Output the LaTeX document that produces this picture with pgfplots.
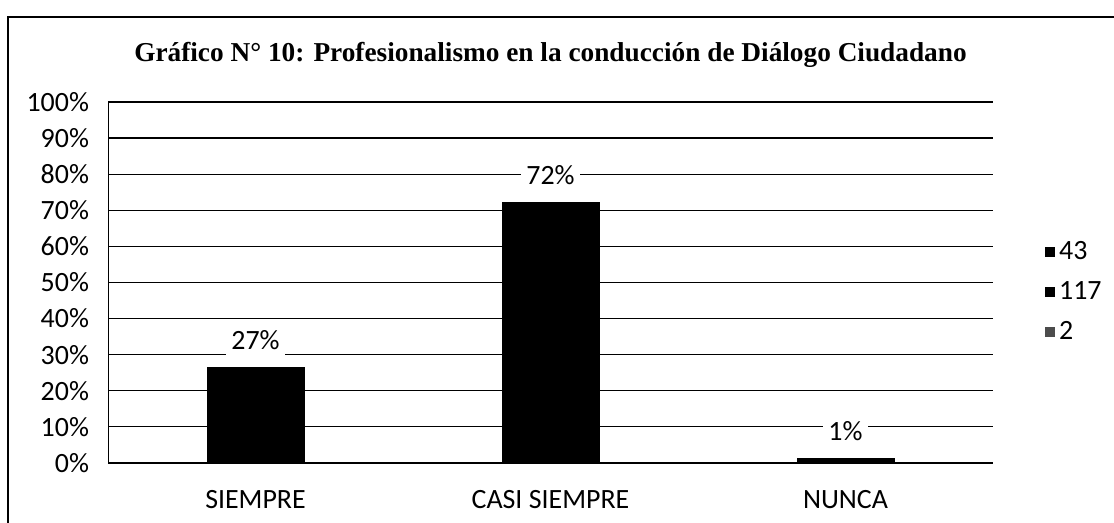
\documentclass[border=0pt]{standalone}
\usepackage{pgfplots}
\pgfplotsset{compat=1.18}
\usepackage{fontspec}
\setmainfont{Carlito}
\newfontfamily\titlefont{Liberation Serif}
\begin{document}
\begin{tikzpicture}
\useasboundingbox (0,0) rectangle (557bp,261.5bp);
\draw[black, line width=0.6bp] (4bp,0) -- (4bp,253bp) -- (557bp,253bp);
\node[font=\titlefont\bfseries\fontsize{13.7}{16}\selectfont] at (275.25bp,234bp) {Gráfico N° 10: Profesionalismo en la conducción de Diálogo Ciudadano};
\begin{axis}[
  at={(54bp,30bp)}, anchor=south west,
  scale only axis, width=442.5bp, height=180.5bp,
  xmin=-0.5, xmax=2.5, ymin=0, ymax=100,
  xtick={0,1,2}, xticklabels={SIEMPRE, CASI SIEMPRE, NUNCA},
  ytick={0,10,...,100},
  yticklabel={\pgfmathprintnumber{\tick}\%},
  /pgf/number format/assume math mode=true,
  major tick length=0pt,
  axis x line*=bottom, axis y line*=left,
  axis line style={black, line width=0.5bp, -},
  ymajorgrids, grid style={black, line width=0.6bp},
  tick label style={font=\fontsize{14}{16}\selectfont},
  yticklabel style={xshift=-6bp},
  xticklabel style={yshift=-10bp},
  legend style={at={(1.052,0.474)}, anchor=west, draw=none, fill=none,
    font=\fontsize{14}{16}\selectfont, row sep=5.5bp},
  legend cell align=left,
]
\addplot[ybar, bar width=48.5bp, fill=black, draw=black,
  point meta=explicit symbolic,
  nodes near coords,
  every node near coord/.append style={anchor=center, yshift=13.5bp, fill=white, inner sep=2.5bp, font=\fontsize{14}{16}\selectfont, text=black},
  forget plot]
  coordinates {(0,26.54) [27\%] (1,72.22) [72\%] (2,1.23) [1\%]};
\addlegendimage{legend image code/.code={\fill[black] (-4.5bp,-2.3bp) rectangle (0bp,2.3bp);}}
\addlegendentry{43}
\addlegendimage{legend image code/.code={\fill[black] (-4.5bp,-2.3bp) rectangle (0bp,2.3bp);}}
\addlegendentry{117}
\addlegendimage{legend image code/.code={\fill[black!70] (-4.5bp,-2.3bp) rectangle (0bp,2.3bp);}}
\addlegendentry{2}
\end{axis}
\end{tikzpicture}
\end{document}
